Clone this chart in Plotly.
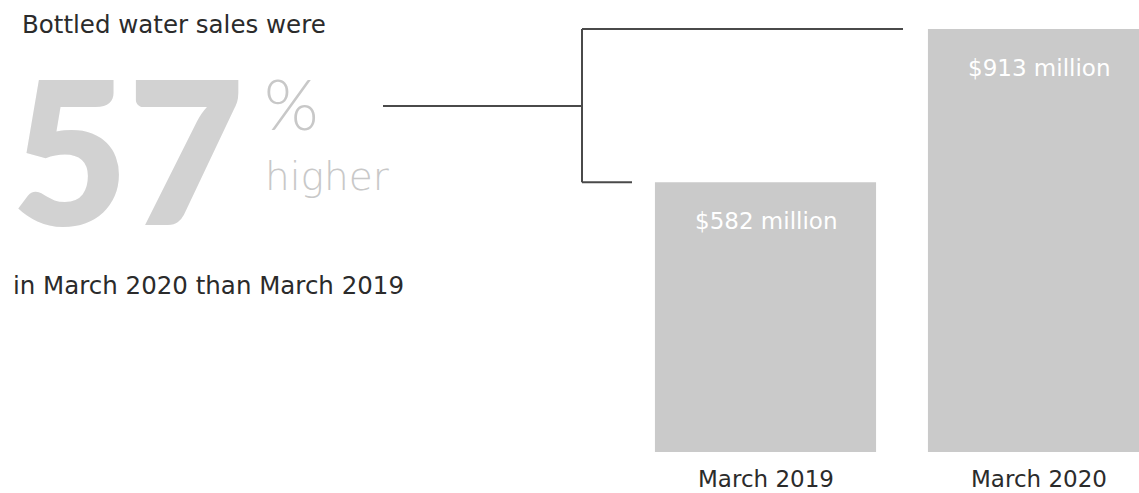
import plotly.graph_objects as go

categories = ["March 2019", "March 2020"]
sales_millions = [582, 913]
bar_labels = ["$582 million", "$913 million"]
headline_pct = "57"

W, H = 1139, 493
FONT = "DejaVu Sans"

fig = go.Figure()
fig.add_trace(go.Bar(
    x=categories, y=sales_millions,
    marker=dict(color="#cacaca", line=dict(width=0)),
    hoverinfo="skip",
))

# value labels inside bar tops, category labels under bars
for c, v, t in zip(categories, sales_millions, bar_labels):
    fig.add_annotation(x=c, y=v, xref="x", yref="y", text=t, showarrow=False,
                       yshift=-39, font=dict(family=FONT, size=23, color="white"))
    fig.add_annotation(x=c, y=0, xref="x", yref="y", text=c, showarrow=False,
                       yshift=-27, font=dict(family=FONT, size=23, color="#2b2b2b"))

def px(x):
    return x / W

def py(y):
    return 1 - y / H

# bracket
line = dict(color="#4a4a4a", width=2)
fig.add_shape(type="line", xref="paper", yref="paper", x0=px(383), x1=px(582), y0=py(106), y1=py(106), line=line)
fig.add_shape(type="line", xref="paper", yref="y", x0=px(582), x1=px(582), y0=sales_millions[0], y1=sales_millions[1], line=line)
fig.add_shape(type="line", xref="paper", yref="y", x0=px(582), x1=px(903), y0=sales_millions[1], y1=sales_millions[1], line=line)
fig.add_shape(type="line", xref="paper", yref="y", x0=px(582), x1=px(632), y0=sales_millions[0], y1=sales_millions[0], line=line)

# left text block
fig.add_annotation(xref="paper", yref="paper", x=px(20), y=py(24), xanchor="left", yanchor="middle",
                   text="Bottled water sales were", showarrow=False,
                   font=dict(family=FONT, size=24.5, color="#2b2b2b"))
fig.add_annotation(xref="paper", yref="paper", x=px(10), y=py(147), xanchor="left", yanchor="middle",
                   text=headline_pct, showarrow=False, height=175, valign="middle",
                   font=dict(family="Lato", size=200, color="#d2d2d2", weight=800))
fig.add_annotation(xref="paper", yref="paper", x=px(262), y=py(103), xanchor="left", yanchor="middle",
                   text="%", showarrow=False,
                   font=dict(family="Lato", size=70, color="#c8c8c8", weight=300))
fig.add_annotation(xref="paper", yref="paper", x=px(263), y=py(176), xanchor="left", yanchor="middle",
                   text="higher", showarrow=False,
                   font=dict(family=FONT, size=39, color="#c8c8c8", weight=300))
fig.add_annotation(xref="paper", yref="paper", x=px(11), y=py(285), xanchor="left", yanchor="middle",
                   text="in March 2020 than March 2019", showarrow=False,
                   font=dict(family=FONT, size=24.5, color="#2b2b2b"))

# axes mapped so bars land at measured pixel positions
step = 273.0
c0 = 765.5
x_range = [-c0 / step, (W - c0) / step]
ppu = 423.0 / 913.0
y_range = [-(H - 452) / ppu, 913 + 29 / ppu]

fig.update_layout(
    width=W, height=H,
    margin=dict(l=0, r=0, t=0, b=0),
    paper_bgcolor="white", plot_bgcolor="white",
    showlegend=False, bargap=0.19,
    xaxis=dict(range=x_range, visible=False, fixedrange=True),
    yaxis=dict(range=y_range, visible=False, fixedrange=True),
)

fig.write_html("out.html", config={"displayModeBar": False},
               post_script="document.body.style.margin='0';document.body.style.overflow='hidden';")
